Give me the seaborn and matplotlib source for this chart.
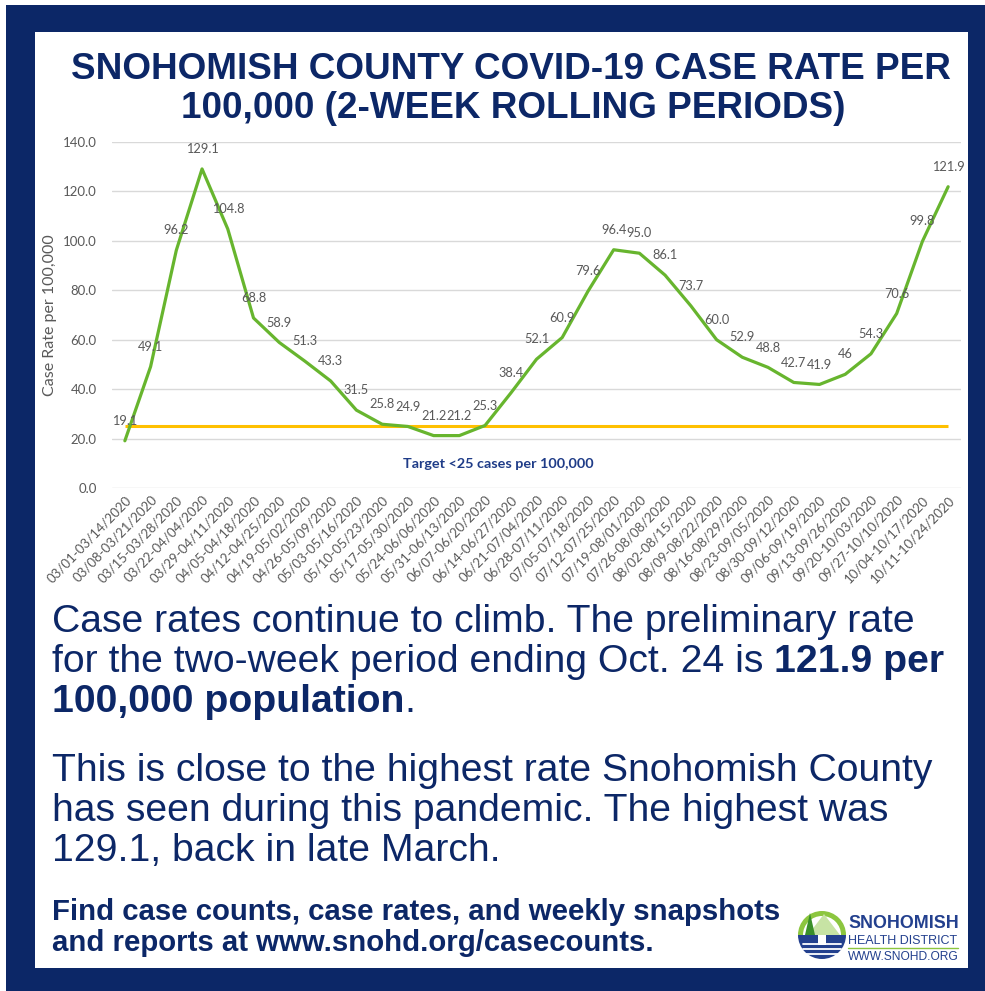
import matplotlib
matplotlib.use("Agg")
import matplotlib.pyplot as plt
import matplotlib.patches as mpatches
import pandas as pd
import seaborn as sns

# two-week rolling periods and case rate per 100,000
periods = [
    "03/01-03/14/2020", "03/08-03/21/2020", "03/15-03/28/2020", "03/22-04/04/2020",
    "03/29-04/11/2020", "04/05-04/18/2020", "04/12-04/25/2020", "04/19-05/02/2020",
    "04/26-05/09/2020", "05/03-05/16/2020", "05/10-05/23/2020", "05/17-05/30/2020",
    "05/24-06/06/2020", "05/31-06/13/2020", "06/07-06/20/2020", "06/14-06/27/2020",
    "06/21-07/04/2020", "06/28-07/11/2020", "07/05-07/18/2020", "07/12-07/25/2020",
    "07/19-08/01/2020", "07/26-08/08/2020", "08/02-08/15/2020", "08/09-08/22/2020",
    "08/16-08/29/2020", "08/23-09/05/2020", "08/30-09/12/2020", "09/06-09/19/2020",
    "09/13-09/26/2020", "09/20-10/03/2020", "09/27-10/10/2020", "10/04-10/17/2020",
    "10/11-10/24/2020",
]
rates = [19.1, 49.1, 96.2, 129.1, 104.8, 68.8, 58.9, 51.3, 43.3, 31.5, 25.8, 24.9,
         21.2, 21.2, 25.3, 38.4, 52.1, 60.9, 79.6, 96.4, 95.0, 86.1, 73.7, 60.0,
         52.9, 48.8, 42.7, 41.9, 46, 54.3, 70.6, 99.8, 121.9]
rate_labels = ["19.1", "49.1", "96.2", "129.1", "104.8", "68.8", "58.9", "51.3", "43.3",
               "31.5", "25.8", "24.9", "21.2", "21.2", "25.3", "38.4", "52.1", "60.9",
               "79.6", "96.4", "95.0", "86.1", "73.7", "60.0", "52.9", "48.8", "42.7",
               "41.9", "46", "54.3", "70.6", "99.8", "121.9"]
TARGET = 25
yticks = [0, 20, 40, 60, 80, 100, 120, 140]

NAVY = "#0c2767"
LOGO_BLUE = "#23408e"
GREEN = "#67b52e"
GOLD = "#ffc000"
GREY = "#595959"
CHART_FONT = ["Lato", "DejaVu Sans"]

df = pd.DataFrame({"period": periods, "rate": rates})

sns.set_theme(style="white")
plt.rcParams["font.family"] = ["Liberation Sans", "DejaVu Sans"]

W, H = 985, 991
fig = plt.figure(figsize=(W / 100, H / 100), dpi=100)
fig.patch.set_facecolor("white")
renderer = fig.canvas.get_renderer()


def fx(px):
    return px / W


def fy(py):
    return 1 - py / H


def fit(t, width_px):
    # scale a text so it spans the given pixel width
    w = t.get_window_extent(renderer).width
    t.set_fontsize(t.get_fontsize() * width_px / w)
    return t


# background frame: navy border with white panel
bg = fig.add_axes([0, 0, 1, 1], zorder=0)
bg.set_xlim(0, W); bg.set_ylim(H, 0); bg.axis("off")
bg.add_patch(mpatches.Rectangle((6, 5), W - 6, H - 5, color=NAVY, lw=0))
bg.add_patch(mpatches.Rectangle((35, 32), 933, 936, color="white", lw=0))

# title
t1 = bg.text(511, 79, "SNOHOMISH COUNTY COVID-19 CASE RATE PER", ha="center",
             va="baseline", fontsize=26, fontweight="bold", color=NAVY)
t2 = bg.text(513, 118, "100,000 (2-WEEK ROLLING PERIODS)", ha="center",
             va="baseline", fontsize=26, fontweight="bold", color=NAVY)
fit(t1, 879)
t2.set_fontsize(t1.get_fontsize())

# chart
ax = fig.add_axes([fx(112), fy(488), fx(961) - fx(112), fy(142) - fy(488)], zorder=2)
ax.patch.set_alpha(0)
sns.lineplot(data=df, x="period", y="rate", ax=ax, color=GREEN, lw=2.3, sort=False)
ax.hlines(TARGET, 0, len(periods) - 1, color=GOLD, lw=2.2, zorder=1)

for i, (v, s) in enumerate(zip(rates, rate_labels)):
    ax.annotate(s, (i, v), xytext=(0, 10), textcoords="offset points", ha="center",
                va="bottom", fontsize=9.2, color=GREY, family=CHART_FONT)

ax.text(14.5, 9.7, "Target <25 cases per 100,000", ha="center", va="center",
        fontsize=10.4, fontweight="bold", color="#1f3c88", family=CHART_FONT)

ax.set_xlim(-0.5, len(periods) - 0.5)
ax.set_ylim(0, 140)
ax.set_yticks(yticks)
ax.set_yticklabels([f"{t:.1f}" for t in yticks])
ax.grid(axis="y", color="#d9d9d9", lw=1)
ax.grid(axis="x", visible=False)
sns.despine(ax=ax, left=True, bottom=True)
ax.tick_params(axis="both", length=0, colors=GREY, labelsize=9.5)
ax.tick_params(axis="y", pad=11)
ax.tick_params(axis="x", pad=4)
for lbl in ax.get_xticklabels():
    lbl.set_rotation(46)
    lbl.set_ha("right")
    lbl.set_rotation_mode("anchor")
    lbl.set_family(CHART_FONT)
for lbl in ax.get_yticklabels():
    lbl.set_family(CHART_FONT)
ax.set_xlabel("")
ax.set_ylabel("Case Rate per 100,000", fontsize=11.5, color=GREY,
              family=CHART_FONT, labelpad=4)


def rich_line(x, y, parts, size):
    prev = None
    for text, weight in parts:
        if prev is None:
            prev = bg.text(x, y, text, ha="left", va="baseline", fontsize=size,
                           fontweight=weight, color=NAVY)
        else:
            prev = bg.annotate(text, xy=(1, 0), xycoords=prev, ha="left", va="bottom",
                               fontsize=size, fontweight=weight, color=NAVY)


BODY = 28.2
rich_line(52, 632, [("Case rates continue to climb. The preliminary rate", "normal")], BODY)
rich_line(52, 672, [("for the two-week period ending Oct. 24 is ", "normal"),
                    ("121.9 per", "bold")], BODY)
rich_line(52, 712, [("100,000 population", "bold"), (".", "normal")], BODY)
rich_line(52, 781, [("This is close to the highest rate Snohomish County", "normal")], BODY)
rich_line(52, 821, [("has seen during this pandemic. The highest was", "normal")], BODY)
rich_line(52, 861, [("129.1, back in late March.", "normal")], BODY)

f1 = bg.text(52, 920, "Find case counts, case rates, and weekly snapshots", ha="left",
             va="baseline", fontsize=20, fontweight="bold", color=NAVY)
fit(f1, 728)
bg.text(52, 951, "and reports at www.snohd.org/casecounts.", ha="left", va="baseline",
        fontsize=f1.get_fontsize(), fontweight="bold", color=NAVY)

# logo emblem (y axis of bg runs downward)
cx, cy = 822, 935
bg.add_patch(mpatches.Wedge((cx, cy), 24, 0, 180, color=LOGO_BLUE, lw=0))
bg.add_patch(mpatches.Wedge((cx, cy), 24, 180, 360, color="#8cc63f", lw=0))
bg.add_patch(mpatches.Wedge((cx, cy), 19, 180, 360, color="white", lw=0))
bg.add_patch(mpatches.Polygon([(808, cy), (824, 914), (840, cy)], color="#c7e3a4", lw=0))
bg.add_patch(mpatches.Polygon([(805, cy), (810, 913), (815, cy)], color="#3a8f2a", lw=0))
bg.add_patch(mpatches.Rectangle((818, cy), 8, 10, color="white", lw=0))
for k in range(3):
    bg.plot([803, 841], [944 + 5 * k, 944 + 5 * k], color="white", lw=1.3)
l1 = bg.text(848, 928, "SNOHOMISH", fontsize=13, fontweight="bold", color=LOGO_BLUE,
             va="baseline", ha="left")
l2 = bg.text(848, 944, "HEALTH DISTRICT", fontsize=10, color=LOGO_BLUE,
             va="baseline", ha="left")
l3 = bg.text(848, 960, "WWW.SNOHD.ORG", fontsize=8.5, color=LOGO_BLUE,
             va="baseline", ha="left")
for t in (l1, l2, l3):
    fit(t, 110)
bg.plot([848, 958], [948, 948], color="#8cc63f", lw=1)

fig.savefig("out.png", dpi=100)
